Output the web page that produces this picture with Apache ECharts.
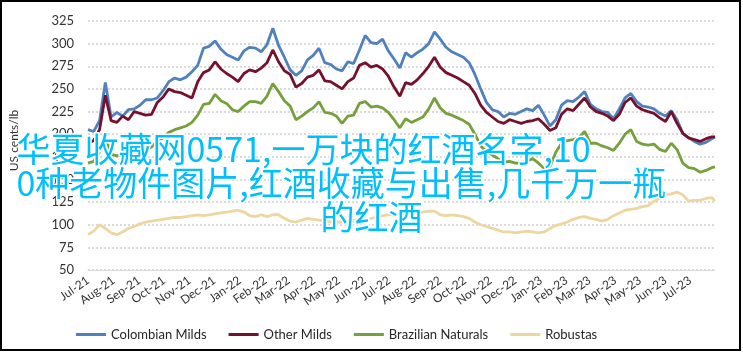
<!DOCTYPE html>
<html>
<head>
<meta charset="utf-8">
<script src="https://cdn.jsdelivr.net/npm/echarts@6/dist/echarts.min.js"></script>
<style>
html, body { margin: 0; padding: 0; background: #fff; }
#main { width: 743px; height: 352px; }
#frame { position: absolute; left: 0; top: 0; width: 741px; height: 351px; border: 2px solid #000; box-sizing: border-box; pointer-events: none; }
</style>
</head>
<body>
<div id="main"></div>
<div id="frame"></div>
<script>
// weekly sample dates
var dates = [
  '2021-07-01','2021-07-08','2021-07-15','2021-07-22','2021-07-29',
  '2021-08-05','2021-08-12','2021-08-19','2021-08-26',
  '2021-09-02','2021-09-09','2021-09-16','2021-09-23','2021-09-30',
  '2021-10-07','2021-10-14','2021-10-21','2021-10-28',
  '2021-11-04','2021-11-11','2021-11-18','2021-11-25',
  '2021-12-02','2021-12-09','2021-12-16','2021-12-23','2021-12-30',
  '2022-01-06','2022-01-13','2022-01-20','2022-01-27',
  '2022-02-03','2022-02-10','2022-02-17','2022-02-24',
  '2022-03-03','2022-03-10','2022-03-17','2022-03-24','2022-03-31',
  '2022-04-07','2022-04-14','2022-04-21','2022-04-28',
  '2022-05-05','2022-05-12','2022-05-19','2022-05-26',
  '2022-06-02','2022-06-09','2022-06-16','2022-06-23','2022-06-30',
  '2022-07-07','2022-07-14','2022-07-21','2022-07-28',
  '2022-08-04','2022-08-11','2022-08-18','2022-08-25',
  '2022-09-01','2022-09-08','2022-09-15','2022-09-22','2022-09-29',
  '2022-10-06','2022-10-13','2022-10-20','2022-10-27',
  '2022-11-03','2022-11-10','2022-11-17','2022-11-24',
  '2022-12-01','2022-12-08','2022-12-15','2022-12-22','2022-12-29',
  '2023-01-05','2023-01-12','2023-01-19','2023-01-26',
  '2023-02-02','2023-02-09','2023-02-16','2023-02-23',
  '2023-03-02','2023-03-09','2023-03-16','2023-03-23','2023-03-30',
  '2023-04-06','2023-04-13','2023-04-20','2023-04-27',
  '2023-05-04','2023-05-11','2023-05-18','2023-05-25',
  '2023-06-01','2023-06-08','2023-06-15','2023-06-22','2023-06-29',
  '2023-07-06','2023-07-13','2023-07-20','2023-07-27','2023-07-31'
];

var colombianMilds = [
  205,203,215,257,219,224,220,227,228,232,238,238,240,248,258,262,260,263,269,276,295,297,303,294,288,285,282,
  292,296,295,291,299,317,298,285,271,265,270,282,287,295,279,277,272,270,280,278,293,309,301,300,305,292,283,273,
  290,285,290,294,300,313,305,296,291,288,285,279,266,250,235,227,225,219,223,222,225,228,226,232,
  221,209,216,232,237,236,241,247,233,228,225,224,217,228,240,245,236,231,230,228,223,220,226,216,201,196,192,189,191,195,197
];
var otherMilds = [
  190,193,205,243,215,213,220,216,225,223,221,222,235,241,250,247,246,243,240,258,268,271,280,272,267,263,258,
  267,271,269,273,279,293,280,270,266,252,256,263,265,271,259,258,254,250,258,262,276,279,274,276,272,264,252,242,
  257,255,260,267,275,285,274,268,265,262,258,254,245,232,224,219,214,212,216,214,212,214,215,217,
  211,204,207,222,228,226,233,240,230,225,223,220,215,222,235,240,231,227,225,223,218,214,225,212,201,196,194,192,195,197,197
];
var brazilianNaturals = [
  168,170,180,198,178,176,178,176,180,182,183,186,192,196,202,205,207,209,213,221,233,234,244,237,234,227,225,
  231,236,236,234,242,256,247,237,231,216,220,225,229,236,224,223,220,212,220,221,234,236,230,231,229,224,216,207,
  217,213,216,219,228,240,229,223,221,218,215,211,200,187,181,177,173,169,170,168,168,170,173,168,
  162,164,180,190,193,194,196,203,190,190,187,185,182,190,200,205,192,189,188,189,183,181,190,183,168,163,162,158,160,163,164
];
var robustas = [
  89,93,100,96,91,89,92,96,98,101,103,104,105,106,107,108,108,109,110,111,110,111,112,113,114,115,116,
  114,110,109,111,109,111,111,107,104,103,105,107,106,105,104,103,103,103,104,105,105,106,107,108,110,111,111,111,
  112,113,113,114,115,115,111,110,111,110,109,107,103,100,98,96,94,92,92,91,92,93,92,91,
  92,96,99,101,103,106,108,109,107,106,104,106,110,113,116,117,118,120,121,126,129,133,134,136,133,126,127,127,129,130,126
];

var tickLabels = [
  'Jul-21','Aug-21','Sep-21','Oct-21','Nov-21','Dec-21','Jan-22','Feb-22','Mar-22','Apr-22','May-22','Jun-22',
  'Jul-22','Aug-22','Sep-22','Oct-22','Nov-22','Dec-22','Jan-23','Feb-23','Mar-23','Apr-23','May-23','Jun-23','Jul-23'
];

var seriesNames = ['Colombian Milds', 'Other Milds', 'Brazilian Naturals', 'Robustas'];
var seriesColors = ['#4F81BD', '#76112D', '#76A03C', '#EDD6A0'];
var seriesValues = [colombianMilds, otherMilds, brazilianNaturals, robustas];

var watermark = [
  '华夏收藏网0571,一万块的红酒名字,10',
  '0种老物件图片,红酒收藏与出售,几千万一瓶',
  '的红酒'
];

var chart = echarts.init(document.getElementById('main'));

var option = {
  animation: false,
  textStyle: { fontFamily: 'Lato' },
  grid: { left: 81, right: 28, top: 21, bottom: 82 },
  legend: {
    data: seriesNames,
    left: 71,
    top: 323,
    icon: 'rect',
    itemWidth: 30,
    itemHeight: 3,
    itemGap: 22,
    textStyle: { fontSize: 13, color: '#262626', fontFamily: 'Lato' }
  },
  xAxis: {
    type: 'time',
    min: '2021-07-01',
    max: '2023-07-31',
    splitNumber: 25,
    minInterval: 28 * 864e5,
    maxInterval: 31 * 864e5,
    axisLine: { lineStyle: { color: '#d9d9d9', width: 1 } },
    axisTick: { show: false },
    splitLine: { show: false },
    axisLabel: {
      rotate: 35,
      fontSize: 12,
      color: '#333',
      margin: 9,
      hideOverlap: false,
      formatter: function (v) {
        var d = new Date(v);
        if (d.getDate() !== 1) return '';
        var idx = (d.getFullYear() - 2021) * 12 + d.getMonth() - 6;
        return tickLabels[idx] || '';
      }
    }
  },
  yAxis: {
    type: 'value',
    min: 50,
    max: 325,
    interval: 25,
    name: 'US cents/lb',
    nameLocation: 'middle',
    nameGap: 68,
    nameRotate: 90,
    nameTextStyle: { fontSize: 12, color: '#333', padding: [0, 0, 0, 10] },
    axisLine: { show: false },
    axisTick: { show: false },
    axisLabel: { fontSize: 13, color: '#333', margin: 14 },
    splitLine: { lineStyle: { color: '#d0d0d0', type: [2, 2], width: 1.5 } }
  },
  series: seriesNames.map(function (name, k) {
    return {
      name: name,
      type: 'line',
      showSymbol: false,
      data: dates.map(function (d, i) { return [d, seriesValues[k][i]]; }),
      lineStyle: { width: 2.8, color: seriesColors[k] },
      itemStyle: { color: seriesColors[k] }
    };
  }),
  graphic: [
    { type: 'text', left: 15, top: 131, z: 100,
      style: { text: watermark[0], fill: '#00BFFF', stroke: '#fff', lineWidth: 3, strokeFirst: true, font: '34px "Noto Sans CJK SC"' } },
    { type: 'text', left: 15, top: 165, z: 100,
      style: { text: watermark[1], fill: '#00BFFF', stroke: '#fff', lineWidth: 3, strokeFirst: true, font: '34px "Noto Sans CJK SC"' } },
    { type: 'text', left: 'center', top: 199, z: 100,
      style: { text: watermark[2], fill: '#00BFFF', stroke: '#fff', lineWidth: 3, strokeFirst: true, font: '34px "Noto Sans CJK SC"' } }
  ]
};

chart.setOption(option);
</script>
</body>
</html>
